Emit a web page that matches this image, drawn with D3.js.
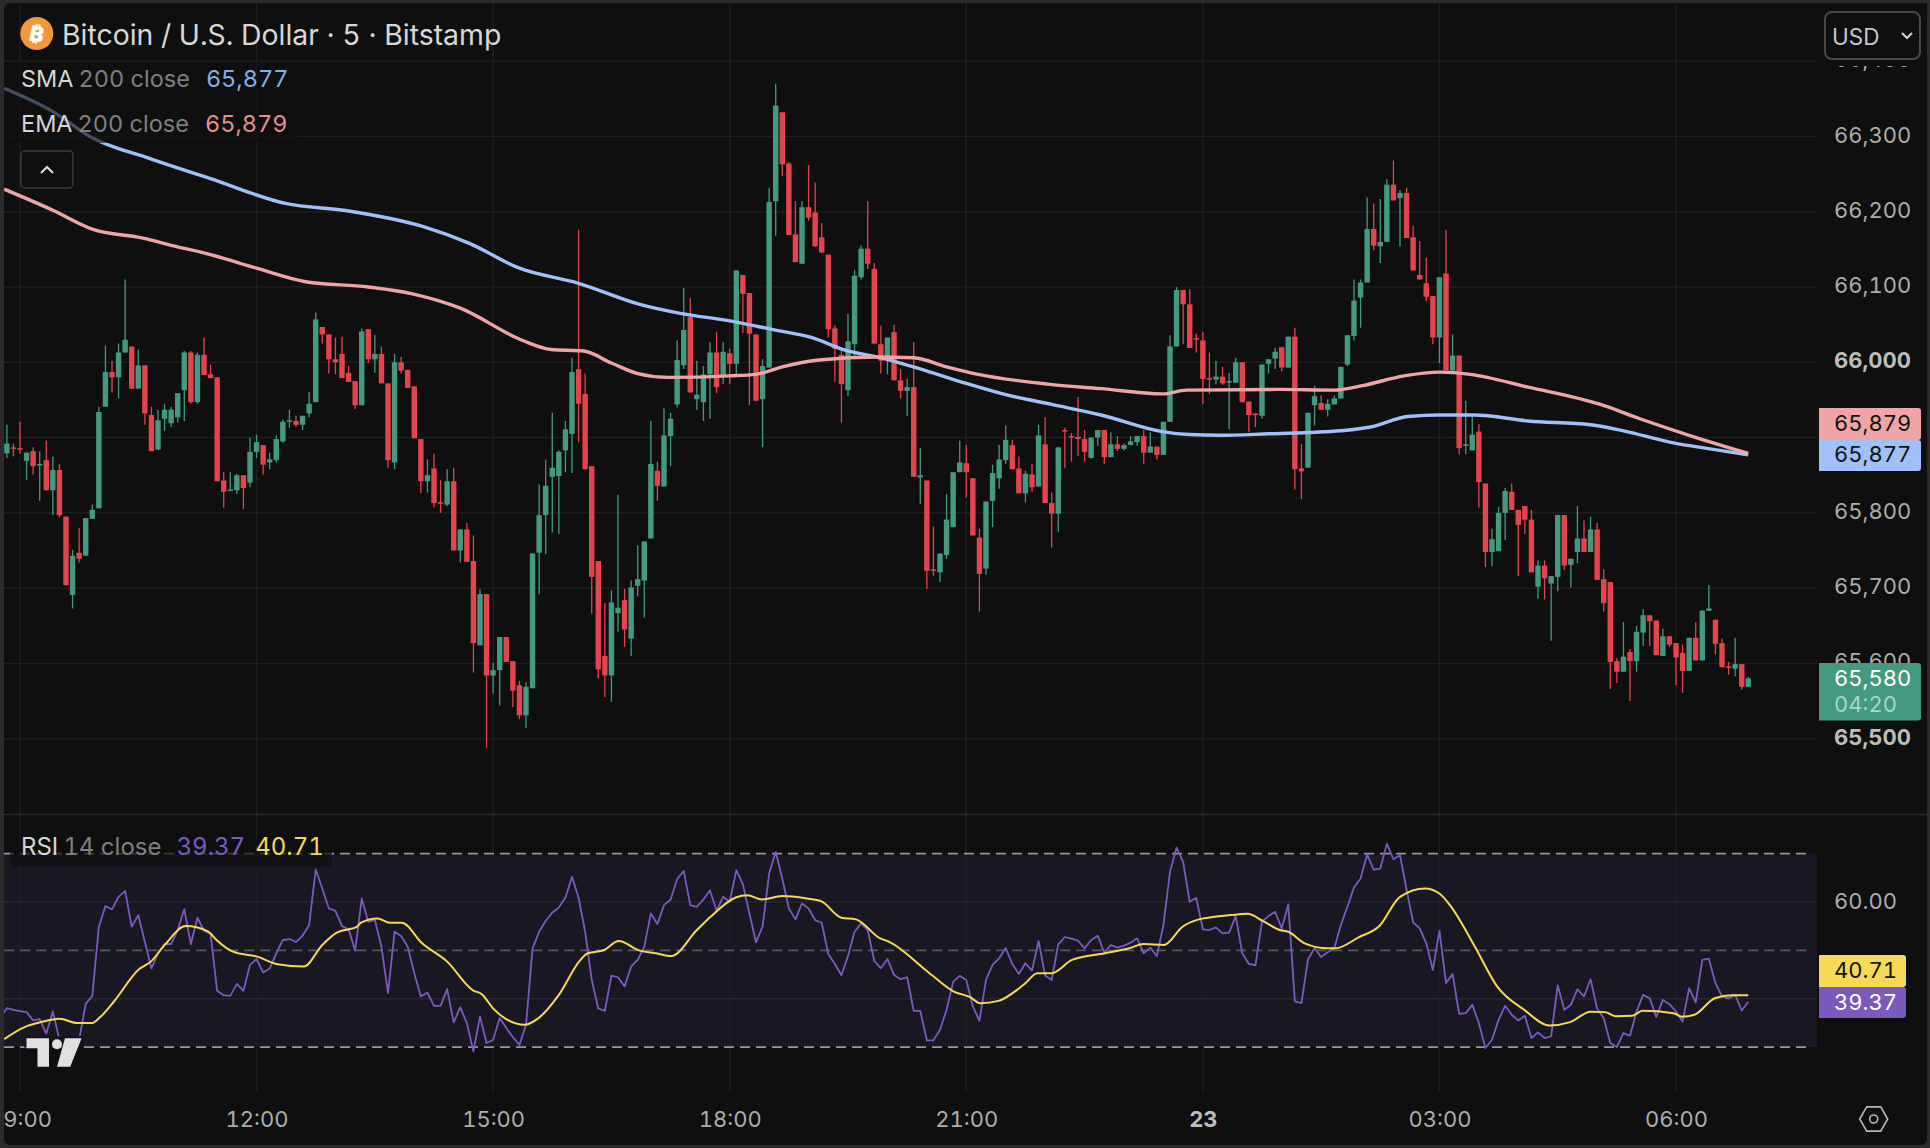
<!DOCTYPE html>
<html>
<head>
<meta charset="utf-8">
<script src="https://cdn.jsdelivr.net/npm/d3@7"></script>
<style>
  html, body { margin: 0; padding: 0; background: #2a2a2a; }
  svg { display: block; font-family: Inter, "Liberation Sans", sans-serif; font-variant-numeric: tabular-nums; }
</style>
</head>
<body>
<svg id="chart" width="1930" height="1148"></svg>
<script>
// BTC/USD 5-minute candles, bar 0 is 09:00; bars run from 08:50 to 06:55 the next day.
const firstBar = -2;
const opens = [
  65879,65887,65886,65869,65882,65863,65870,65830,65857,65795,
  65691,65747,65743,65792,65806,65941,65987,65980,66013,66021,
  65965,65996,65930,65884,65925,65919,65927,65963,66013,65947,
  66010,65984,65980,65843,65829,65830,65850,65840,65881,65890,
  65867,65870,65895,65922,65922,65917,65932,65947,66047,66037,
  66004,66011,65986,65975,65943,66044,66004,66011,65972,65867,
  66000,65990,65968,65898,65842,65859,65814,65811,65842,65750,
  65778,65736,65624,65692,65584,65591,65635,65603,65571,65531,
  65567,65747,65797,65848,65849,65883,65905,65991,65958,65862,
  65736,65610,65584,65667,65684,65633,65703,65710,65766,65856,
  65835,65902,65944,65996,66060,65951,65947,65984,66013,65983,
  66012,65998,66116,66092,66037,65951,65993,66214,66332,66264,
  66170,66131,66206,66199,66166,66143,66045,66010,65963,66024,
  66113,66151,66124,66024,66008,66040,65976,65962,65967,65847,
  65843,65725,65721,65744,65781,65854,65866,65846,65767,65726,
  65816,65846,65870,65890,65859,65826,65851,65835,65891,65813,
  65799,65910,65902,65901,65898,65873,65900,65910,65874,65891,
  65885,65890,65894,65902,65880,65888,65877,65921,66021,66096,
  66077,66032,66029,65979,65977,65981,65973,65973,66000,65948,
  65932,65929,65998,66005,66020,65993,66034,65859,65860,65943,
  65946,65937,65944,65952,65997,66035,66086,66106,66177,66154,
  66160,66236,66218,66225,66166,66116,66105,66088,66033,66118,
  65989,66009,65889,65883,65908,65839,65748,65749,65800,65828,
  65804,65809,65791,65702,65730,65706,65715,65797,65731,65748,
  65766,65748,65778,65712,65708,65603,65589,65615,65603,65641,
  65664,65657,65610,65636,65627,65614,65590,65634,65604,65670,
  65658,65627,65596,65593,65599,65569
];
const highs = [
  65917,65892,65921,65880,65887,65882,65896,65875,65865,65795,
  65751,65780,65793,65811,65941,66022,66002,66025,66110,66021,
  66017,65996,65941,65937,65945,65941,65959,66015,66015,66013,
  66033,65997,65980,65854,65854,65852,65850,65900,65904,65890,
  65880,65903,65924,65937,65929,65929,65961,66066,66047,66037,
  66033,66034,65995,65975,66045,66044,66036,66021,65972,66011,
  66007,65990,65968,65898,65871,65879,65844,65858,65860,65778,
  65787,65770,65699,65692,65601,65635,65635,65603,65577,65575,
  65746,65838,65871,65933,65883,65922,66006,66176,65985,65862,
  65736,65680,65697,65824,65699,65710,65757,65762,65922,65868,
  65939,65933,66029,66099,66085,66002,65995,66027,66040,66027,
  66018,66122,66116,66092,66037,66004,66232,66370,66332,66266,
  66214,66214,66262,66239,66185,66143,66049,66016,66064,66123,
  66155,66214,66132,66049,66033,66050,65991,65978,66027,65886,
  65843,65782,65746,65825,65854,65896,65890,65846,65779,65815,
  65864,65890,65916,65897,65875,65856,65865,65917,65927,65827,
  65887,65913,65906,65954,65910,65900,65910,65910,65907,65902,
  65892,65902,65902,65910,65907,65888,65921,66036,66100,66096,
  66097,66038,66040,66013,66002,65994,65986,66006,66000,65948,
  65932,65997,66004,66019,66020,66034,66046,65892,65933,65969,
  65956,65951,65956,65994,66036,66110,66110,66219,66211,66217,
  66243,66268,66229,66232,66181,66161,66139,66088,66113,66176,
  66037,66009,65949,65929,65918,65839,65779,65808,65833,65839,
  65804,65809,65804,65737,65737,65716,65797,65797,65739,65809,
  65790,65795,65787,65725,65708,65607,65655,65619,65650,65672,
  65664,65657,65646,65636,65627,65625,65634,65655,65671,65704,
  65658,65633,65602,65634,65599,65582
];
const lows = [
  65873,65875,65879,65844,65851,65816,65830,65797,65794,65704,
  65673,65734,65743,65792,65806,65941,65960,65952,66013,65965,
  65965,65917,65882,65884,65909,65914,65920,65922,65945,65945,
  65983,65979,65842,65807,65829,65825,65805,65834,65873,65851,
  65858,65867,65893,65913,65914,65910,65927,65947,66025,65985,
  65984,65979,65974,65938,65943,65999,65986,65972,65860,65858,
  65985,65966,65899,65826,65827,65807,65800,65809,65750,65734,
  65735,65588,65624,65488,65560,65544,65602,65542,65526,65514,
  65567,65692,65745,65774,65772,65854,65853,65894,65858,65666,
  65580,65555,65549,65642,65622,65610,65689,65661,65766,65816,
  65835,65862,65940,65991,65960,65937,65922,65925,65959,65971,
  65971,65984,66039,65943,65949,65887,65993,66168,66247,66169,
  66133,66131,66188,66153,66145,66033,65974,65920,65955,66007,
  66110,66124,66024,65985,65984,65976,65952,65929,65848,65812,
  65699,65716,65708,65739,65781,65854,65820,65770,65669,65718,
  65781,65832,65865,65858,65826,65814,65828,65835,65813,65754,
  65775,65860,65868,65876,65868,65872,65889,65865,65874,65882,
  65883,65890,65889,65865,65880,65871,65877,65921,66021,66024,
  66019,66013,65945,65958,65971,65970,65911,65973,65947,65907,
  65914,65925,65985,65991,65988,65993,65831,65818,65860,65916,
  65937,65928,65944,65952,65995,66029,66046,66106,66149,66132,
  66160,66215,66154,66165,66122,66110,66081,66024,65999,65989,
  65989,65878,65878,65883,65807,65728,65729,65749,65764,65804,
  65716,65772,65721,65686,65685,65630,65696,65724,65701,65733,
  65748,65748,65711,65669,65566,65574,65589,65550,65589,65623,
  65623,65611,65610,65622,65571,65561,65590,65604,65604,65670,
  65612,65595,65585,65583,65565,65569
];
const closes = [
  65892,65885,65884,65880,65862,65865,65830,65857,65797,65704,
  65743,65739,65793,65804,65934,65987,65980,66013,66030,65965,
  65996,65932,65882,65923,65937,65937,65959,66013,65947,66010,
  65983,65979,65842,65828,65831,65850,65833,65881,65894,65864,
  65871,65898,65921,65923,65917,65929,65945,66057,66037,66004,
  66000,65979,65974,65943,66041,66004,66011,65972,65870,66000,
  65989,65966,65899,65842,65850,65813,65813,65842,65750,65778,
  65735,65627,65692,65584,65591,65635,65602,65564,65531,65569,
  65746,65797,65836,65860,65881,65911,65987,65945,65858,65715,
  65592,65584,65681,65674,65645,65701,65712,65762,65865,65836,
  65903,65925,66003,66043,65960,65957,65984,66013,65967,66014,
  65998,66122,66091,66038,65949,65995,66213,66341,66263,66169,
  66133,66206,66192,66154,66146,66044,66018,65971,66028,66115,
  66151,66131,66025,66002,66033,65976,65962,65967,65848,65850,
  65723,65723,65746,65791,65854,65867,65854,65770,65719,65815,
  65853,65871,65897,65858,65826,65852,65834,65903,65813,65799,
  65887,65908,65901,65898,65881,65900,65910,65874,65891,65885,
  65890,65895,65902,65880,65888,65877,65921,66021,66096,66077,
  66019,66030,65978,65977,65981,65972,65975,66000,65947,65930,
  65930,65997,66004,66014,65993,66034,65858,65855,65933,65955,
  65937,65945,65952,65994,66036,66082,66106,66177,66155,66160,
  66236,66215,66225,66165,66122,66110,66087,66033,66113,65989,
  66009,65886,65891,65904,65841,65748,65765,65800,65829,65804,
  65784,65791,65721,65730,65713,65716,65797,65730,65739,65766,
  65748,65778,65711,65680,65602,65589,65609,65603,65642,65664,
  65656,65611,65636,65625,65608,65590,65634,65604,65670,65673,
  65626,65595,65594,65599,65569,65580
];

// Moving averages of the close, read at the listed bar positions.
const smaBars = [-2.4,5,10.6,20,29,40.4,50,61.5,68.4,76,85,94.3,100.5,108,114.8,120.4,125.3,131.5,137.8,144,150,157,164.5,173.8,178,182.5,190,201,205.5,211.2,216,221.3,229.5,239,244,251.6,257.2,263];
const smaValues = [66364,66333,66300,66270,66244,66211,66201,66180,66158,66125,66105,66077,66065,66055,66043,66033,66017,66005,65989,65972,65957,65944,65930,65908,65904,65903,65905,65909,65914,65928,65930,65930,65922,65917,65909,65893,65885,65877];
const emaBars = [-2.4,5,11,18.7,23.7,29,36,43.5,53,59.7,67,76.5,80.8,85.8,90,94,98.6,108,112,116,121.6,130.3,136,141,145.8,156.4,164.5,173.8,177.5,191.7,199.9,204.3,210.6,216,220.7,229.5,240.5,246.5,254.7,263];
const emaValues = [66230,66202,66177,66165,66154,66143,66125,66107,66100,66091,66072,66029,66017,66015,65999,65985,65980,65982,65984,65994,66003,66007,66006,65994,65984,65971,65965,65958,65963,65964,65963,65969,65982,65987,65984,65967,65944,65925,65901,65879];

// RSI(14) per bar; the first value belongs to the bar just left of the visible range.
const rsiFirstBar = -3;
const rsiValues = [
  36.00,
  38.05,37.71,37.43,37.23,35.51,35.79,32.77,37.37,31.53,28.09,
  29.47,31.53,38.95,40.60,54.89,59.14,58.46,61.07,62.30,54.89,
  57.29,51.79,46.23,49.39,51.31,51.31,54.20,58.53,51.31,56.74,
  54.06,53.37,41.63,40.73,40.60,43.07,41.63,46.98,48.22,45.40,
  46.23,49.39,52.14,52.34,51.72,53.03,55.23,66.70,62.79,58.66,
  58.18,55.02,54.34,49.94,60.72,55.92,56.26,50.76,41.15,53.85,
  52.96,50.76,45.27,40.46,41.28,38.53,38.53,41.97,35.10,38.26,
  34.96,29.12,36.34,30.84,31.53,36.00,33.93,32.08,30.43,34.62,
  50.42,53.85,56.12,57.77,58.87,60.93,65.19,60.93,53.85,43.89,
  37.99,37.50,44.79,44.44,42.52,46.64,48.02,50.76,57.63,55.43,
  59.35,60.52,64.71,66.43,59.35,59.01,60.52,62.44,58.18,61.07,
  60.04,66.56,63.68,57.63,51.66,54.89,65.88,70.34,64.85,58.66,
  56.40,59.69,58.66,56.26,55.71,49.25,47.19,44.85,48.84,53.85,
  55.57,54.20,47.81,46.30,48.22,44.92,44.03,44.44,37.50,37.50,
  31.39,31.39,33.59,37.71,43.48,44.72,43.89,38.40,35.44,43.89,
  46.98,48.36,50.49,47.19,45.13,47.33,45.82,51.93,44.79,43.89,
  51.24,52.76,52.41,52.00,50.42,52.14,53.03,49.53,51.11,50.56,
  50.97,51.59,52.48,49.39,50.56,48.84,55.23,66.22,71.24,68.28,
  60.04,60.86,54.34,54.20,54.75,53.51,53.65,57.08,49.39,47.19,
  46.92,55.92,57.08,57.98,54.54,59.49,39.43,39.08,48.15,50.42,
  48.63,49.59,50.42,55.23,59.01,62.99,64.85,69.86,66.70,66.91,
  72.06,68.83,69.66,62.58,55.78,54.54,51.45,45.95,54.06,43.21,
  45.13,36.89,37.02,38.74,34.96,29.81,31.53,35.65,38.53,36.68,
  35.51,36.47,31.87,33.04,31.87,32.21,42.79,37.71,38.74,41.97,
  40.46,44.03,37.92,36.00,30.84,30.02,32.90,32.35,37.37,40.80,
  40.11,36.20,39.77,38.88,37.37,35.30,42.18,39.22,48.02,48.29,
  43.21,40.46,40.05,40.80,37.57,39.37
];
// RSI-based moving average, read at the listed bar positions.
const rsiMaBars = [-2.4,0.7,3.2,6,8.8,10.9,12.2,14.3,18.1,19.9,22.1,25.2,28.6,29.9,32.4,36.1,39.2,43.2,46,48.2,51.3,51.9,54.4,56.3,58.1,61.2,65,69,70.2,72.1,76.8,78.9,82,85.2,86.4,88.9,91.1,94.3,96.8,99.1,103,105.1,108.9,110.7,112.9,116,119.7,121.9,125,127.2,130.9,132.2,138.4,142.1,144.6,146.1,148.9,153,154.8,157,160.1,165.1,168.8,171,174.1,176.9,179.4,184.3,186.8,189.3,191.7,193,195.5,199,200.2,203.7,206.9,210,213.8,216,217.6,221.4,224.8,228.9,232.7,235.9,239,241.2,242.8,245.3,246.9,251.6,252.9,254.8,257.9,260.5,263];
const rsiMaValues = [31.66,34.14,35.17,35.85,34.96,34.96,36.20,39.43,46.09,47.67,51.24,55.02,53.92,52.14,49.73,48.70,47.12,46.64,51.11,53.65,54.89,55.71,56.60,55.71,55.71,51.45,47.67,41.69,41.01,37.85,34.62,35.99,40.80,47.88,49.39,50.08,51.93,49.94,49.39,48.84,54.20,56.95,60.93,61.41,60.52,61.21,60.72,60.17,56.74,56.40,52.48,51.79,45.27,41.49,40.32,39.08,39.56,43.21,45.27,45.27,48.02,49.39,50.42,51.31,51.11,54.89,56.40,57.29,57.56,55.92,54.20,53.85,51.45,50.42,50.42,52.69,55.09,61.07,62.79,61.76,59.35,50.76,42.52,37.71,34.48,35.17,37.30,37.23,36.40,36.47,37.50,37.02,36.27,36.68,40.11,40.73,40.71];

// Axis ticks.
const timeTickBars = [0,36,72,108,144,180,216,252];
const timeTickLabels = ["09:00","12:00","15:00","18:00","21:00","23","03:00","06:00"];
const boldTimeTicks = ["23"];
const priceTicks = [66400,66300,66200,66100,66000,65900,65800,65700,65600,65500];
const priceTicksShown = [66400,66300,66200,66100,66000,65800,65700,65600,65500];
const boldPriceTicks = [66000,65500];
const rsiTicks = [60,40];

// Header and legend text.
const titleText = "Bitcoin / U.S. Dollar · 5 · Bitstamp";
const smaName = "SMA", emaName = "EMA", rsiName = "RSI";
const maParams = "200 close", rsiParams = "14 close";
const smaLast = 65877, emaLast = 65879, closeLast = 65580;
const rsiLast = 39.37, rsiMaLast = 40.71;
const countdown = "04:20";

const C = {
  bg: "#0f0f0f", border: "#2b2b2b", grid: "#1e1e1e", gridRsi: "#282633",
  up: "#439a80", down: "#e4444e", sma: "#a0c0f6", ema: "#eea5a8",
  rsi: "#7a5bbd", rsiMa: "#f6d957", band: "#191722", text: "#adadad",
  textBold: "#bdbdbd", legend: "#d6d6d6", dim: "#7f7f7f"
};

const svg = d3.select("#chart");
svg.append("rect").attr("width", 1930).attr("height", 1148).attr("fill", C.border);
svg.append("rect").attr("x", 4).attr("y", 3).attr("width", 1923).attr("height", 1142).attr("rx", 6).attr("fill", C.bg);

const defs = svg.append("defs");
defs.append("clipPath").attr("id", "paneClip").append("rect").attr("x", 4).attr("y", 3).attr("width", 1813).attr("height", 1142);
defs.append("clipPath").attr("id", "axisClip").append("rect").attr("x", 4).attr("y", 1095).attr("width", 1813).attr("height", 50);

const plotRight = 1817, priceBottom = 814, rsiTop = 853.6, rsiBottom = 1047.1, gridBottom = 1092;

const x = d3.scaleLinear().domain([0, 252]).range([20, 1676]);
const yPrice = d3.scaleLinear().domain([65500, 66000]).range([738.7, 362.3]);
const yRsi = d3.scaleLinear().domain([30, 70]).range([rsiBottom, rsiTop]);

const barIndex = i => firstBar + i;

// Grid
const grid = svg.append("g").attr("clip-path", "url(#paneClip)");
grid.append("rect").attr("x", 4).attr("y", rsiTop).attr("width", plotRight - 4).attr("height", rsiBottom - rsiTop).attr("fill", C.band);
grid.selectAll("line.v").data(timeTickBars).join("line")
  .attr("x1", d => x(d)).attr("x2", d => x(d)).attr("y1", 3).attr("y2", gridBottom)
  .attr("stroke", C.grid).attr("stroke-width", 1.5);
grid.selectAll("line.h").data(priceTicks).join("line")
  .attr("x1", 4).attr("x2", plotRight).attr("y1", d => yPrice(d)).attr("y2", d => yPrice(d))
  .attr("stroke", C.grid).attr("stroke-width", 1.5);
grid.selectAll("line.r").data(rsiTicks).join("line")
  .attr("x1", 4).attr("x2", plotRight).attr("y1", d => yRsi(d)).attr("y2", d => yRsi(d))
  .attr("stroke", C.gridRsi).attr("stroke-width", 1.5);
svg.append("line").attr("x1", 4).attr("x2", 1927).attr("y1", priceBottom + 0.5).attr("y2", priceBottom + 0.5)
  .attr("stroke", C.border).attr("stroke-width", 1.5);

// RSI reference levels
const levels = [{v: 70, c: "#96949c"}, {v: 50, c: "#5a5861"}, {v: 30, c: "#96949c"}];
svg.append("g").selectAll("line").data(levels).join("line")
  .attr("x1", 4).attr("x2", 1808).attr("y1", d => yRsi(d.v)).attr("y2", d => yRsi(d.v))
  .attr("stroke", d => d.c).attr("stroke-width", 1.8).attr("stroke-dasharray", "10 6");

// Candles
const candles = svg.append("g").attr("clip-path", "url(#paneClip)").selectAll("g").data(opens.map((o, i) => ({
  i: barIndex(i), o, h: highs[i], l: lows[i], c: closes[i]
}))).join("g");
candles.append("line")
  .attr("x1", d => x(d.i)).attr("x2", d => x(d.i))
  .attr("y1", d => yPrice(d.h)).attr("y2", d => yPrice(d.l))
  .attr("stroke", d => d.c >= d.o ? C.up : C.down).attr("stroke-width", 1.3);
candles.append("rect")
  .attr("x", d => x(d.i) - 2.7).attr("width", 5.4)
  .attr("y", d => yPrice(Math.max(d.o, d.c)))
  .attr("height", d => Math.max(1.5, Math.abs(yPrice(d.o) - yPrice(d.c))))
  .attr("fill", d => d.c >= d.o ? C.up : C.down);

// Moving averages
const maLine = d3.line().curve(d3.curveMonotoneX).x(d => x(d[0])).y(d => yPrice(d[1]));
const maGroup = svg.append("g").attr("clip-path", "url(#paneClip)").attr("fill", "none").attr("stroke-width", 3.4).attr("stroke-linejoin", "round");
maGroup.append("path").attr("d", maLine(d3.zip(smaBars, smaValues))).attr("stroke", C.sma);
maGroup.append("path").attr("d", maLine(d3.zip(emaBars, emaValues))).attr("stroke", C.ema);

// RSI and its average
const rsiG = svg.append("g").attr("clip-path", "url(#paneClip)").attr("fill", "none").attr("stroke-linejoin", "round");
const rsiLine = d3.line().x(d => x(d[0])).y(d => yRsi(d[1]));
rsiG.append("path").attr("d", rsiLine(rsiValues.map((v, i) => [rsiFirstBar + i, v]))).attr("stroke", C.rsi).attr("stroke-width", 1.8);
rsiG.append("path").attr("d", d3.line().curve(d3.curveMonotoneX).x(d => x(d[0])).y(d => yRsi(d[1]))(d3.zip(rsiMaBars, rsiMaValues))).attr("stroke", C.rsiMa).attr("stroke-width", 2);

// Logo mark
const logo = svg.append("g");
logo.append("rect").attr("x", 24).attr("y", 1036).attr("width", 60).attr("height", 11.5).attr("fill", "#15141b");
logo.append("path").attr("fill", "#e0e0e0").attr("d", "M26.5 1038.3H49V1066.7H37.5V1048.3H26.5ZM65 1038.3H81.6L70.2 1066.7H57Z");
logo.append("circle").attr("cx", 57).attr("cy", 1044.3).attr("r", 5).attr("fill", "#e0e0e0");

// Price axis
const fmt = d3.format(",");
const axisPrice = d3.axisRight(yPrice).tickValues(priceTicksShown).tickSize(0).tickPadding(0).tickFormat(fmt);
const gPrice = svg.append("g").attr("transform", `translate(${1834},-1.5)`).call(axisPrice);
gPrice.select(".domain").remove();
gPrice.selectAll("text").attr("font-family", "Inter").attr("font-size", 22)
  .attr("fill", d => boldPriceTicks.includes(d) ? C.textBold : C.text)
  .attr("font-weight", d => boldPriceTicks.includes(d) ? 700 : 400);

// Header band hides the top of the price axis
svg.append("rect").attr("x", 1818).attr("y", 3).attr("width", 109).attr("height", 63).attr("fill", C.bg);

// RSI axis
const axisRsi = d3.axisRight(yRsi).tickValues([60]).tickSize(0).tickPadding(0).tickFormat(d3.format(".2f"));
const gRsi = svg.append("g").attr("transform", `translate(${1834},-1)`).call(axisRsi);
gRsi.select(".domain").remove();
gRsi.selectAll("text").attr("font-family", "Inter").attr("font-size", 22).attr("fill", C.text);

// Time axis
const axisTime = d3.axisBottom(x).tickValues(timeTickBars).tickSize(0).tickPadding(0)
  .tickFormat((d, i) => timeTickLabels[i]);
const gTime = svg.append("g").attr("clip-path", "url(#axisClip)").append("g")
  .attr("transform", "translate(0,1111)").call(axisTime);
gTime.select(".domain").remove();
gTime.selectAll("text").attr("font-family", "Inter").attr("font-size", 22)
  .attr("fill", (d, i) => boldTimeTicks.includes(timeTickLabels[i]) ? C.textBold : C.text)
  .attr("font-weight", (d, i) => boldTimeTicks.includes(timeTickLabels[i]) ? 700 : 400);

// Current value tags
function tag(x0, y0, w, h, fill) {
  svg.append("path").attr("fill", fill).attr("d", `M${x0} ${y0}H${x0 + w - 3}Q${x0 + w} ${y0} ${x0 + w} ${y0 + 3}V${y0 + h - 3}Q${x0 + w} ${y0 + h} ${x0 + w - 3} ${y0 + h}H${x0}Z`);
}
function tagText(xp, yp, str, fill) {
  return svg.append("text").attr("x", xp).attr("y", yp).attr("font-size", 22).attr("dominant-baseline", "central").attr("fill", fill).text(str);
}
tag(1819, 408, 102, 32, C.ema);
tagText(1834, 423, fmt(emaLast), "#131313");
tag(1819, 440, 102, 31, C.sma);
tagText(1834, 454, fmt(smaLast), "#131313");
tag(1819, 663, 102, 57.5, C.up);
tagText(1834, 678, fmt(closeLast), "#ffffff");
tagText(1834, 704, countdown, "#a9d6c8");
tag(1819, 955, 87, 32, C.rsiMa);
tagText(1834, 970, d3.format(".2f")(rsiMaLast), "#131313");
tag(1819, 987, 87, 31, C.rsi);
tagText(1834, 1002, d3.format(".2f")(rsiLast), "#ffffff");

// Legend backdrops
svg.append("rect").attr("x", 4).attr("y", 62).attr("width", 294).attr("height", 81).attr("fill", C.bg).attr("opacity", 0.65);
svg.append("rect").attr("x", 10).attr("y", 838).attr("width", 322).attr("height", 29).attr("fill", C.bg).attr("opacity", 0.7);

// Header
svg.append("circle").attr("cx", 36.8).attr("cy", 33.5).attr("r", 16.5).attr("fill", "#ef9a36");
svg.append("text").attr("text-anchor", "middle").attr("dominant-baseline", "central")
  .attr("transform", "translate(36.8,34) rotate(12)")
  .attr("font-size", 21).attr("font-weight", 800).attr("fill", "#fff").attr("stroke", "#fff").attr("stroke-width", 0.5).text("₿");
svg.append("text").attr("x", 62).attr("y", 34).attr("dominant-baseline", "central").attr("font-size", 28.4).attr("fill", "#d8d8d8").text(titleText);

function legendRow(xp, yp, parts, size) {
  const t = svg.append("text").attr("x", xp).attr("y", yp).attr("dominant-baseline", "central").attr("font-size", size);
  parts.forEach(p => {
    const s = t.append("tspan").attr("fill", p.c).text(p.t);
    if (p.dx) s.attr("dx", p.dx);
  });
}
legendRow(21, 78, [{t: smaName, c: C.legend}, {t: maParams, c: C.dim, dx: 5}, {t: fmt(smaLast), c: "#86aee8", dx: 16}], 23.5);
legendRow(21, 123, [{t: emaName, c: C.legend}, {t: maParams, c: C.dim, dx: 5}, {t: fmt(emaLast), c: "#e08f93", dx: 16}], 23.5);
legendRow(21, 846, [{t: rsiName, c: C.legend}, {t: rsiParams, c: C.dim, dx: 5}, {t: d3.format(".2f")(rsiLast), c: C.rsi, dx: 15}, {t: d3.format(".2f")(rsiMaLast), c: C.rsiMa, dx: 10}], 24);

// Collapse button
svg.append("rect").attr("x", 21).attr("y", 151).attr("width", 52).attr("height", 37).attr("rx", 4).attr("fill", C.bg).attr("stroke", "#3a3a3a").attr("stroke-width", 1.4);
svg.append("path").attr("d", "M41 173L47 167L53 173").attr("fill", "none").attr("stroke", "#e0e0e0").attr("stroke-width", 2);

// Currency button
svg.append("rect").attr("x", 1825).attr("y", 12).attr("width", 95).attr("height", 47).attr("rx", 7).attr("fill", C.bg).attr("stroke", "#484848").attr("stroke-width", 2);
svg.append("text").attr("x", 1832).attr("y", 36).attr("dominant-baseline", "central").attr("font-size", 22.5).attr("fill", "#c8c8c8").text("USD");
svg.append("path").attr("d", "M1902 33L1907 38L1912 33").attr("fill", "none").attr("stroke", "#d0d0d0").attr("stroke-width", 2.2);

// Settings icon
const hexR = 14, hexCx = 1873.7, hexCy = 1119;
const hexPts = d3.range(6).map(k => [hexCx + hexR * Math.cos(k * Math.PI / 3), hexCy + hexR * Math.sin(k * Math.PI / 3)]);
svg.append("path").attr("d", d3.line().curve(d3.curveLinearClosed)(hexPts)).attr("fill", "none").attr("stroke", "#b8b8b8").attr("stroke-width", 1.6);
svg.append("circle").attr("cx", hexCx).attr("cy", hexCy).attr("r", 4).attr("fill", "none").attr("stroke", "#b8b8b8").attr("stroke-width", 1.6);
</script>
</body>
</html>
